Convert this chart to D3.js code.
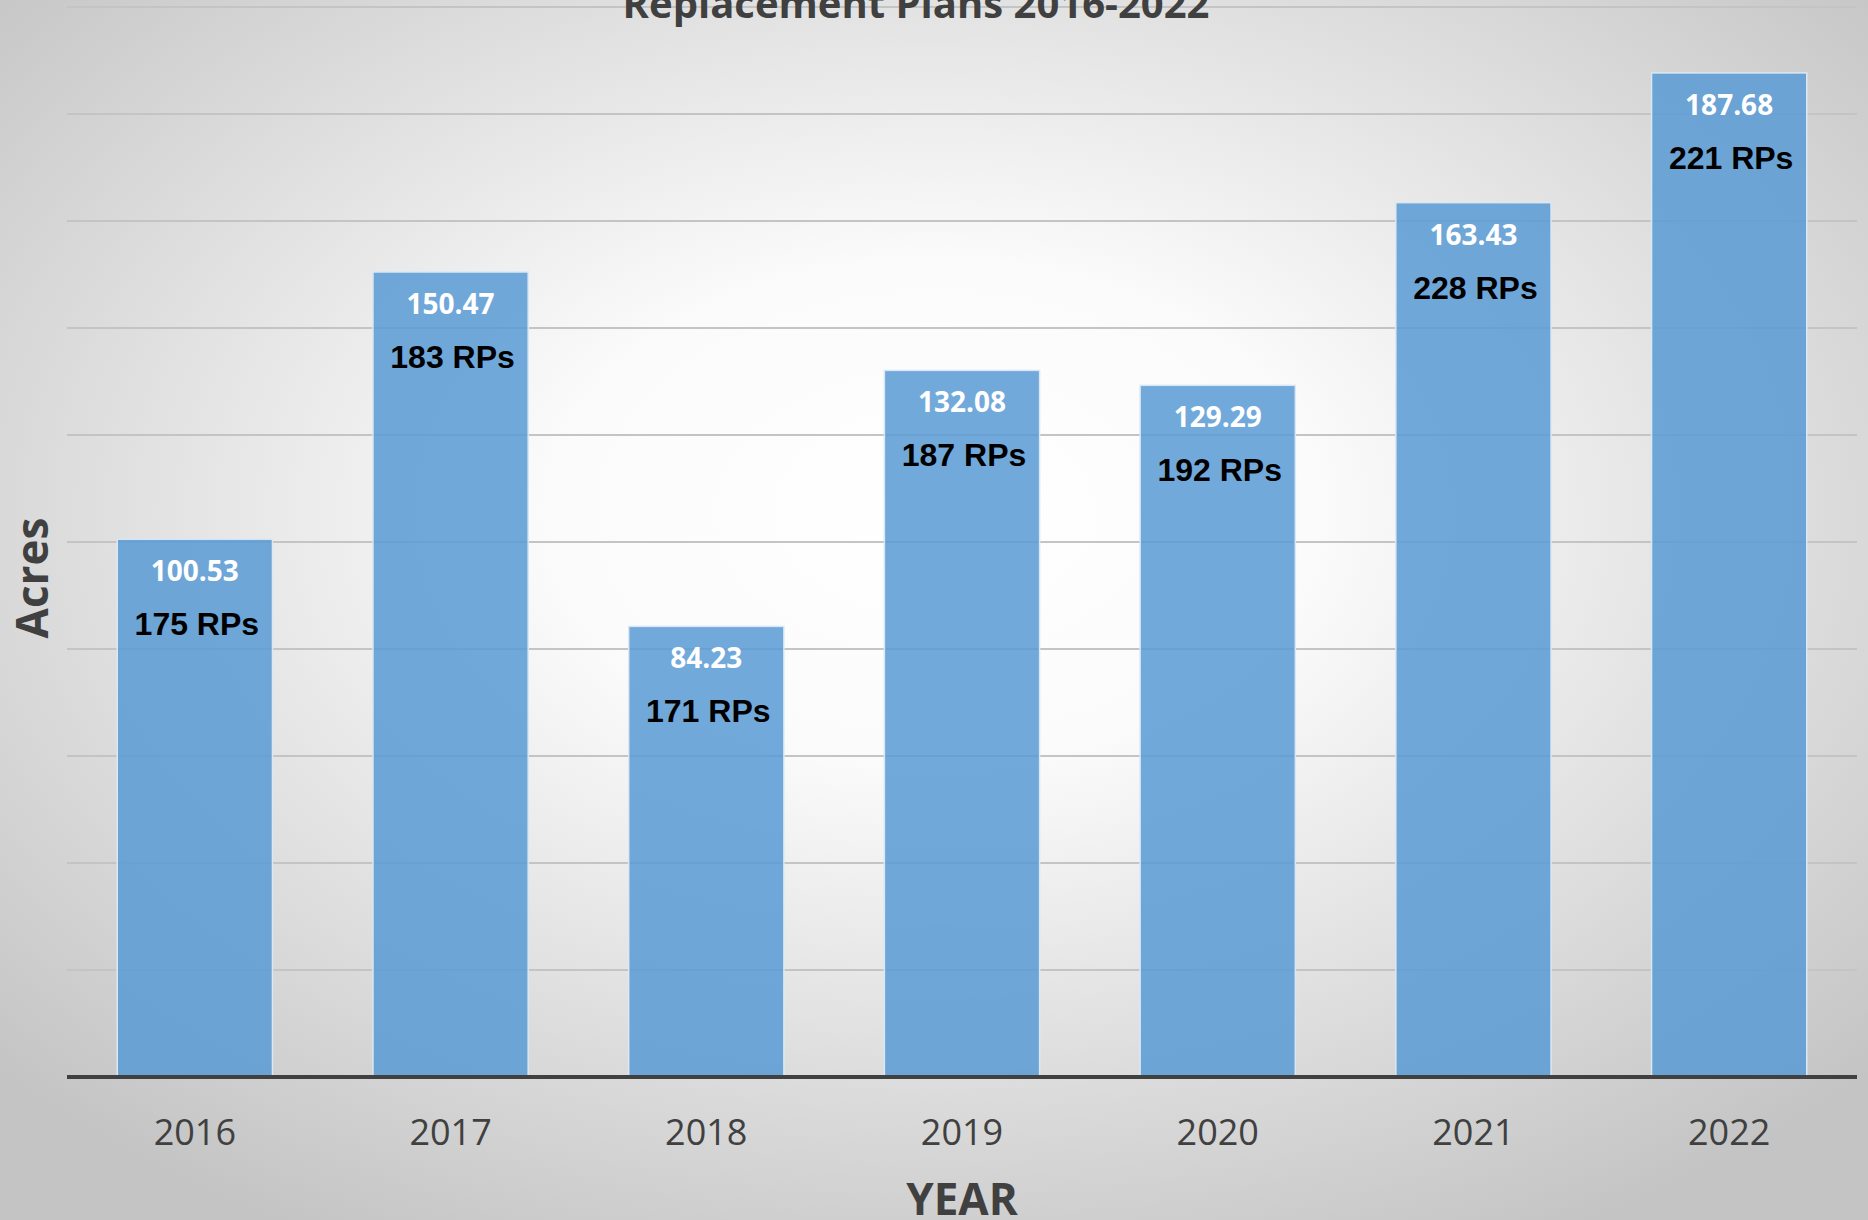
<!DOCTYPE html>
<html>
<head>
<meta charset="utf-8">
<script src="https://cdn.jsdelivr.net/npm/d3@7"></script>
<style>
  html, body { margin: 0; padding: 0; overflow: hidden; }
  svg { display: block; }
</style>
</head>
<body>
<svg id="chart"></svg>
<script>
// chart data
const years = ["2016", "2017", "2018", "2019", "2020", "2021", "2022"];
const acres = [100.53, 150.47, 84.23, 132.08, 129.29, 163.43, 187.68];
const rpCounts = [175, 183, 171, 187, 192, 228, 221];
const yTicks = [0, 20, 40, 60, 80, 100, 120, 140, 160, 180, 200];

const width = 1868;
const height = 1220;

let svg = d3.select("#chart")
    .attr("width", width)
    .attr("height", height);

// radial grey background like the excel preset
let defs = svg.append("defs");
let grad = defs.append("radialGradient")
    .attr("id", "bg")
    .attr("cx", "50%")
    .attr("cy", "42%")
    .attr("r", "68%");
grad.append("stop").attr("offset", "0%").attr("stop-color", "#ffffff");
grad.append("stop").attr("offset", "30%").attr("stop-color", "#fbfbfb");
grad.append("stop").attr("offset", "100%").attr("stop-color", "#c4c4c4");

svg.append("rect")
    .attr("width", width)
    .attr("height", height)
    .attr("fill", "url(#bg)");

let x = d3.scaleBand()
    .domain(years)
    .range([67, 1857])
    .padding(0);

let y = d3.scaleLinear()
    .domain([0, 200])
    .range([1077, 7]);

let barW = x.bandwidth() * 0.607;

// gridlines
svg.append("g")
    .selectAll("line")
    .data(yTicks.slice(1))
    .join("line")
    .attr("x1", 67)
    .attr("x2", 1857)
    .attr("y1", d => y(d))
    .attr("y2", d => y(d))
    .attr("stroke", "#c4c4c4")
    .attr("stroke-width", 2);

// bars
svg.append("g")
    .selectAll("rect")
    .data(acres)
    .join("rect")
    .attr("x", (d, i) => x(years[i]) + (x.bandwidth() - barW) / 2)
    .attr("y", d => y(d))
    .attr("width", barW)
    .attr("height", d => y(0) - y(d))
    .attr("fill", "#5b9bd5")
    .attr("fill-opacity", 0.86)
    .attr("stroke", "#dbe8f4")
    .attr("stroke-width", 1.5);

// value labels inside the bars
svg.append("g")
    .selectAll("text")
    .data(acres)
    .join("text")
    .attr("x", (d, i) => x(years[i]) + x.bandwidth() / 2)
    .attr("y", d => y(d) + 42)
    .attr("text-anchor", "middle")
    .attr("font-family", "'Open Sans', sans-serif")
    .attr("font-weight", "bold")
    .attr("font-size", 28)
    .attr("fill", "#ffffff")
    .text(d => d.toFixed(2));

svg.append("g")
    .selectAll("text")
    .data(rpCounts)
    .join("text")
    .attr("x", (d, i) => x(years[i]) + x.bandwidth() / 2 + 2)
    .attr("y", (d, i) => y(acres[i]) + 96)
    .attr("text-anchor", "middle")
    .attr("font-family", "'Liberation Sans', Arial, sans-serif")
    .attr("font-weight", "bold")
    .attr("font-size", 32)
    .attr("fill", "#000000")
    .text(d => d + " RPs");

// x axis
let xAxis = svg.append("g")
    .attr("transform", "translate(0," + y(0) + ")")
    .call(d3.axisBottom(x).tickSize(0).tickPadding(68));

xAxis.select(".domain")
    .attr("d", "M67,0H1857")
    .attr("stroke", "#404040")
    .attr("stroke-width", 4);

xAxis.selectAll(".tick text")
    .attr("font-family", "'Open Sans', sans-serif")
    .attr("font-size", 36)
    .attr("fill", "#404040")
    .attr("dy", 0);

// titles
svg.append("text")
    .attr("x", 916)
    .attr("y", 18)
    .attr("text-anchor", "middle")
    .attr("font-family", "'Open Sans', sans-serif")
    .attr("font-weight", "bold")
    .attr("font-size", 40)
    .attr("fill", "#404040")
    .text("Replacement Plans 2016-2022");

svg.append("text")
    .attr("x", 962)
    .attr("y", 1215)
    .attr("text-anchor", "middle")
    .attr("font-family", "'Open Sans', sans-serif")
    .attr("font-weight", "bold")
    .attr("font-size", 44)
    .attr("fill", "#404040")
    .text("YEAR");

svg.append("text")
    .attr("transform", "translate(48,578) rotate(-90)")
    .attr("text-anchor", "middle")
    .attr("font-family", "'Open Sans', sans-serif")
    .attr("font-weight", "bold")
    .attr("font-size", 44)
    .attr("fill", "#404040")
    .text("Acres");
</script>
</body>
</html>
